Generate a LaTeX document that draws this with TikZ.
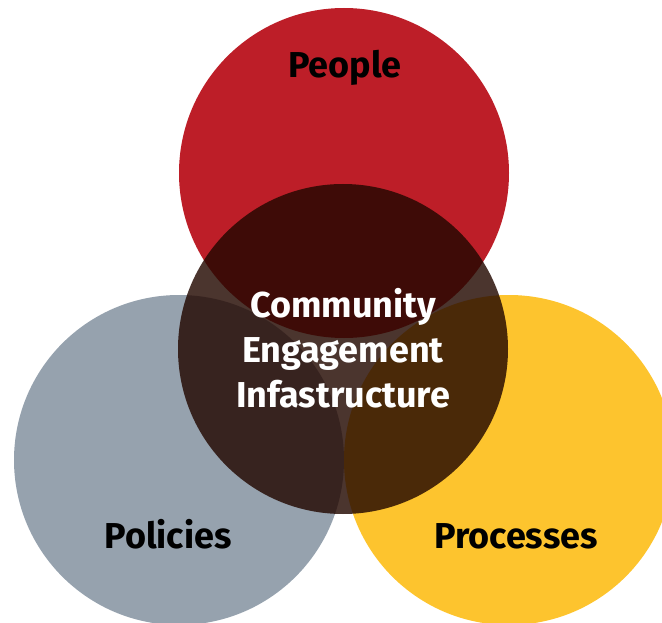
\documentclass[tikz,border=0pt]{standalone}
\usepackage{fontspec}
\setmainfont{Fira Sans}
\definecolor{cred}{RGB}{189,30,40}
\definecolor{cgray}{RGB}{150,162,174}
\definecolor{cyellow}{RGB}{253,196,46}
\definecolor{cdark}{RGB}{35,8,0}
\begin{document}
\begin{tikzpicture}[x=1pt,y=-1pt,
  circ/.style={circle, minimum size=330pt, inner sep=0pt, draw=none},
  lab/.style={font=\fontsize{36}{45}\selectfont\bfseries, text=black, inner sep=0pt, anchor=base},
  corelab/.style={lab, text=white, align=center}]
\useasboundingbox (0,0) rectangle (662,623);
\node[circ, fill=cred] (people) at (344,173) {};
\node[circ, fill=cgray] (policies) at (179,460) {};
\node[circ, fill=cyellow] (processes) at (509,460) {};
\node[circ, fill=cdark, fill opacity=0.82] (core) at (343,349) {};
\node[lab] (tpeople) at (345,78) {People};
\node[lab] (tpolicies) at (168,548) {Policies};
\node[lab] (tprocesses) at (516,548) {Processes};
\node[corelab] (tcore) at (343,407) {Community\\Engagement\\Infastructure};
\end{tikzpicture}
\end{document}
